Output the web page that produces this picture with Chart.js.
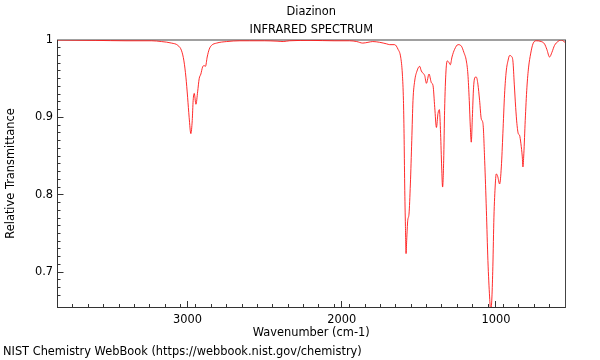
<!DOCTYPE html>
<html>
<head>
<meta charset="utf-8">
<script src="https://cdn.jsdelivr.net/npm/chart.js@4/dist/chart.umd.min.js"></script>
<style>
  html, body { margin: 0; padding: 0; background: #fff; }
  #wrap { width: 600px; height: 360px; position: relative; }
</style>
</head>
<body>
<div id="wrap"><canvas id="c" width="600" height="360"></canvas></div>
<script>
// Wavenumber (cm-1)
const wavenumbers = [
  3844, 3600, 3400, 3233, 3170, 3104, 3063, 3039, 3024, 3011, 3000, 2990, 2979, 2970, 2964, 2957,
  2946, 2935, 2925, 2914, 2903, 2893, 2884, 2873, 2860, 2845, 2812, 2747, 2661, 2600, 2500, 2420,
  2380, 2340, 2200, 2050, 1950, 1903, 1864, 1830, 1799, 1754, 1709, 1689, 1657, 1635, 1618, 1607,
  1600, 1596, 1592, 1587, 1583, 1579, 1572, 1564, 1555, 1546, 1538, 1527, 1512, 1495, 1484, 1473,
  1462, 1451, 1434, 1419, 1408, 1397, 1386, 1376, 1367, 1359, 1352, 1346, 1339, 1333, 1324, 1315,
  1305, 1296, 1285, 1268, 1246, 1224, 1208, 1192, 1182, 1173, 1166, 1160, 1153, 1145, 1134, 1127,
  1117, 1106, 1095, 1084, 1073, 1062, 1052, 1041, 1034, 1026, 1020, 1013, 1004, 998, 989, 976,
  965, 955, 944, 933, 922, 911, 900, 890, 881, 872, 864, 855, 847, 838, 829, 825,
  819, 810, 799, 788, 775, 760, 738, 706, 685, 670, 652, 637, 620, 598, 576, 559, 552
];
// Relative transmittance at each wavenumber
const transmittance = [
  1.000, 0.9995, 0.999, 0.999, 0.998, 0.996, 0.993, 0.986, 0.973, 0.952, 0.926, 0.900, 0.879, 0.896, 0.922, 0.931,
  0.917, 0.933, 0.950, 0.956, 0.965, 0.967, 0.966, 0.978, 0.988, 0.993, 0.996, 0.998, 0.999, 0.999, 0.999, 0.9985,
  0.998, 0.999, 0.9995, 0.999, 0.999, 0.998, 0.996, 0.997, 0.998, 0.997, 0.995, 0.994, 0.994, 0.988, 0.978, 0.956,
  0.922, 0.879, 0.814, 0.759, 0.724, 0.741, 0.767, 0.775, 0.814, 0.870, 0.922, 0.947, 0.960, 0.966, 0.960, 0.957,
  0.954, 0.944, 0.956, 0.945, 0.941, 0.913, 0.887, 0.905, 0.910, 0.879, 0.836, 0.810, 0.844, 0.909, 0.960, 0.973,
  0.971, 0.968, 0.978, 0.988, 0.994, 0.992, 0.984, 0.973, 0.956, 0.922, 0.887, 0.868, 0.900, 0.939, 0.952, 0.952,
  0.943, 0.922, 0.898, 0.892, 0.844, 0.780, 0.715, 0.668, 0.650, 0.668, 0.707, 0.771, 0.814, 0.827, 0.824, 0.814,
  0.836, 0.879, 0.930, 0.960, 0.973, 0.980, 0.979, 0.973, 0.943, 0.913, 0.892, 0.879, 0.877, 0.866, 0.849, 0.836,
  0.853, 0.896, 0.939, 0.965, 0.982, 0.995, 0.999, 0.998, 0.995, 0.988, 0.978, 0.984, 0.993, 0.998, 1.000, 0.998, 0.997
];
const xMajorTicks = [1000, 2000, 3000];
const yMajorTicks = [0.7, 0.8, 0.9, 1];
const xRange = [552, 3844];
const yRange = [0.655, 1.0];

const points = wavenumbers.map((w, i) => ({ x: w, y: transmittance[i] }));

const FS = 11.4;
Chart.defaults.font.family = "'DejaVu Sans', sans-serif";
Chart.defaults.font.size = FS;
Chart.defaults.color = '#000';

const axisColor = '#333';

new Chart(document.getElementById('c'), {
  type: 'line',
  data: {
    datasets: [{
      data: points,
      xAxisID: 'x',
      yAxisID: 'y',
      borderColor: 'rgb(255,20,20)',
      borderWidth: 0.9,
      pointRadius: 0,
      fill: false,
      cubicInterpolationMode: 'monotone'
    }]
  },
  options: {
    responsive: false,
    animation: false,
    devicePixelRatio: 1,
    layout: { padding: { left: 3, right: 35, top: 0, bottom: 0 } },
    plugins: {
      legend: { display: false },
      tooltip: { enabled: false },
      title: {
        display: true,
        text: ['Diazinon', 'INFRARED SPECTRUM'],
        fullSize: false,
        color: '#000',
        font: { size: FS, weight: 'normal', lineHeight: 18 / FS },
        padding: { top: 3, bottom: 1 }
      },
      subtitle: {
        display: true,
        text: 'NIST Chemistry WebBook (https://webbook.nist.gov/chemistry)',
        position: 'bottom',
        align: 'start',
        color: '#000',
        font: { size: FS, weight: 'normal', lineHeight: 1.2 },
        padding: { top: 5.2, bottom: 1.1 }
      }
    },
    scales: {
      xMinor: {
        type: 'linear', position: 'bottom', weight: -1,
        min: xRange[0], max: xRange[1], reverse: true,
        ticks: { display: false, stepSize: 100, autoSkip: false },
        grid: { drawOnChartArea: false, tickLength: -3, tickColor: axisColor },
        border: { color: axisColor },
        afterFit: s => { s.height = 0; }
      },
      x: {
        type: 'linear', position: 'bottom', weight: 0,
        min: xRange[0], max: xRange[1], reverse: true,
        afterBuildTicks: s => { s.ticks = xMajorTicks.map(v => ({ value: v })); },
        ticks: { padding: 12.5, autoSkip: false, maxRotation: 0, callback: v => String(v) },
        grid: { drawOnChartArea: false, tickLength: -6, tickColor: axisColor },
        border: { color: axisColor },
        title: { display: true, text: 'Wavenumber (cm-1)', padding: { top: 0, bottom: 0 } },
        afterFit: s => { s.height = 33; }
      },
      xTop: {
        type: 'linear', position: 'top',
        min: xRange[0], max: xRange[1], reverse: true,
        ticks: { display: false },
        grid: { drawOnChartArea: false, drawTicks: false },
        border: { color: '#a0a0a0', width: 2 },
        afterFit: s => { s.height = 0; }
      },
      yMinor: {
        type: 'linear', position: 'left', weight: -1,
        min: yRange[0], max: yRange[1],
        ticks: { display: false, stepSize: 0.01, autoSkip: false },
        grid: { drawOnChartArea: false, tickLength: -3, tickColor: axisColor },
        border: { color: axisColor },
        afterFit: s => { s.width = 0; }
      },
      y: {
        type: 'linear', position: 'left', weight: 0,
        min: yRange[0], max: yRange[1],
        afterBuildTicks: s => { s.ticks = yMajorTicks.map(v => ({ value: v })); },
        ticks: { padding: 10.5, autoSkip: false, callback: v => String(v) },
        grid: { drawOnChartArea: false, tickLength: -6, tickColor: axisColor },
        border: { color: axisColor },
        title: { display: true, text: 'Relative Transmittance', padding: { top: 1.3, bottom: 0 } },
        afterFit: s => { s.width = 54.5; }
      },
      yRight: {
        type: 'linear', position: 'right',
        min: yRange[0], max: yRange[1],
        ticks: { display: false },
        grid: { drawOnChartArea: false, drawTicks: false },
        border: { color: '#444' },
        afterFit: s => { s.width = 0; }
      }
    }
  }
});
</script>
</body>
</html>
